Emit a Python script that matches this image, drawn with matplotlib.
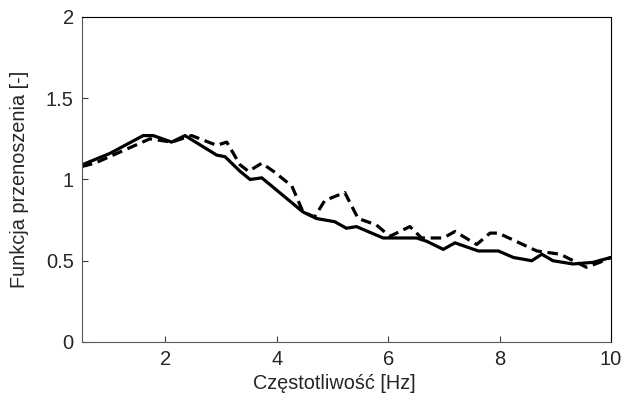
import matplotlib.pyplot as plt

plt.rcParams['font.family'] = ['Liberation Sans', 'DejaVu Sans']

# solid curve
f_solid = [0.5, 1.0, 1.6, 1.78, 2.11, 2.35, 2.92, 3.07, 3.34, 3.52, 3.73, 4.47,
           4.71, 5.04, 5.25, 5.43, 5.91, 6.51, 6.69, 6.99, 7.2, 7.62, 7.98,
           8.25, 8.58, 8.76, 8.96, 9.32, 9.68, 10.0]
h_solid = [1.09, 1.16, 1.27, 1.27, 1.23, 1.27, 1.15, 1.14, 1.05, 1.00, 1.01, 0.80,
           0.76, 0.74, 0.70, 0.71, 0.64, 0.64, 0.62, 0.57, 0.61, 0.56, 0.56,
           0.52, 0.50, 0.54, 0.50, 0.48, 0.49, 0.52]

# dashed curve
f_dash = [0.5, 0.73, 1.72, 2.11, 2.47, 2.92, 3.1, 3.34, 3.49, 3.73, 3.94, 4.27,
          4.47, 4.68, 4.86, 5.22, 5.46, 5.79, 6.03, 6.39, 6.6, 6.99, 7.2, 7.59,
          7.83, 7.98, 8.67, 9.09, 9.56, 9.8, 10.0]
h_dash = [1.08, 1.10, 1.25, 1.23, 1.27, 1.21, 1.23, 1.09, 1.05, 1.10, 1.05, 0.96,
          0.80, 0.77, 0.87, 0.92, 0.76, 0.72, 0.65, 0.71, 0.64, 0.64, 0.68, 0.60,
          0.67, 0.67, 0.56, 0.54, 0.46, 0.49, 0.52]

fig = plt.figure(figsize=(6.33, 3.94), dpi=100)
ax = fig.add_axes([0.1295, 0.132, 0.8355, 0.825])

ax.plot(f_solid, h_solid, color='black', lw=2.3, solid_joinstyle='miter')
ax.plot(f_dash, h_dash, color='black', lw=2.3, dashes=(3.3, 1.8))

ax.set_xlim(0.5, 10)
ax.set_ylim(0, 2)
ax.set_xticks([2, 4, 6, 8, 10])
ax.set_yticks([0, 0.5, 1, 1.5, 2])
ax.set_yticklabels(['0', '0.5', '1', '1.5', '2'])
ax.tick_params(direction='in', length=4, width=0.8, color='#404040',
               labelsize=14.5, labelcolor='#262626', pad=6)
for s in ['left', 'bottom']:
    ax.spines[s].set_color('#555555')
for s in ['top', 'right']:
    ax.spines[s].set_color('black')

ax.set_xlabel('Częstotliwość [Hz]', fontsize=14.3, color='#262626')
ax.set_ylabel('Funkcja przenoszenia [-]', fontsize=14.3, color='#262626')
ax.xaxis.set_label_coords(0.478, -0.1)
ax.yaxis.set_label_coords(-0.1, 0.5)

fig.savefig('out.png', dpi=100)
